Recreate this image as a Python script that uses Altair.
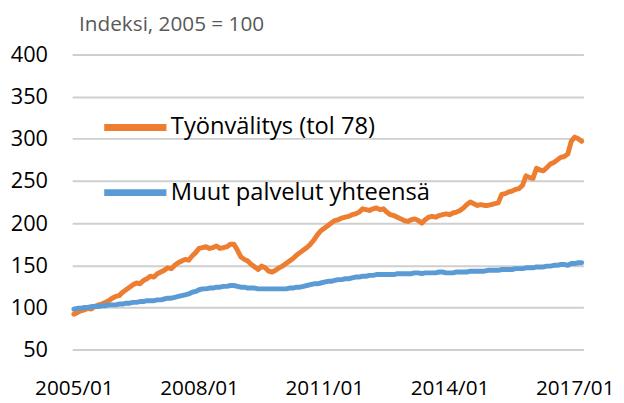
import altair as alt
import pandas as pd

# Monthly index values 2005/01 .. 2017/03 (147 months)
tyonvalitys = [
    92, 94, 96, 97, 99, 98, 101, 103, 104, 106, 108, 111,
    113, 114, 118, 121, 124, 127, 129, 128, 132, 134, 137, 136,
    140, 142, 144, 147, 146, 150, 153, 155, 157, 156, 161, 165,
    170, 171, 172, 170, 171, 173, 170, 171, 172, 175, 175, 168,
    160, 157, 155, 151, 148, 145, 149, 147, 143, 142, 144, 147,
    149, 152, 155, 158, 162, 165, 168, 171, 175, 180, 186, 191,
    194, 197, 200, 203, 204, 206, 207, 208, 210, 211, 213, 217,
    216, 215, 217, 218, 216, 217, 213, 210, 209, 207, 205, 203,
    202, 204, 205, 203, 200, 204, 207, 208, 207, 209, 210, 211,
    210, 212, 213, 215, 218, 222, 225, 223, 221, 222, 221, 221,
    222, 223, 224, 234, 235, 237, 238, 240, 241, 245, 256, 254,
    253, 265, 263, 262, 266, 270, 272, 275, 278, 279, 282, 297,
    302, 300, 297,
]
muut = [
    98, 99, 99, 100, 100, 101, 101, 101, 102, 102, 103, 103,
    103, 104, 104, 105, 105, 106, 106, 107, 107, 108, 108, 108,
    109, 109, 110, 111, 111, 112, 113, 114, 115, 116, 118, 119,
    121, 122, 122, 123, 123, 124, 124, 125, 125, 126, 126, 125,
    124, 124, 123, 123, 123, 122, 122, 122, 122, 122, 122, 122,
    122, 122, 123, 123, 124, 124, 125, 126, 127, 128, 128, 129,
    130, 131, 131, 132, 133, 133, 134, 134, 135, 136, 136, 137,
    137, 138, 138, 139, 139, 139, 139, 139, 139, 140, 140, 140,
    140, 140, 141, 141, 140, 141, 141, 141, 141, 142, 142, 141,
    141, 141, 142, 142, 142, 142, 143, 143, 143, 143, 143, 144,
    144, 144, 144, 145, 145, 145, 145, 146, 146, 146, 147, 147,
    147, 148, 148, 148, 149, 149, 150, 150, 151, 151, 150, 152,
    152, 153, 153,
]
series_names = ["Työnvälitys (tol 78)", "Muut palvelut yhteensä"]
series_colors = ["#ED7D31", "#5B9BD5"]
x_labels = ["2005/01", "2008/01", "2011/01", "2014/01", "2017/01"]
y_ticks = [50, 100, 150, 200, 250, 300, 350, 400]
axis_title = "Indeksi, 2005 = 100"

rows = []
for name, vals in zip(series_names, [tyonvalitys, muut]):
    for i, v in enumerate(vals):
        rows.append({"m": i, "v": v, "s": name})
df = pd.DataFrame(rows)

label_arr = "[" + ",".join("'%s'" % l for l in x_labels) + "]"
FONT = "Open Sans"

xscale = alt.Scale(domain=[-0.5, 146.5], nice=False, zero=False)
yscale = alt.Scale(domain=[50, 400], nice=False, zero=False)
yaxis = alt.Axis(values=y_ticks, title=None, grid=True, gridColor="#cfcfcf", gridWidth=2,
                 gridOpacity=1, domain=False, ticks=False, labelFontSize=22, labelPadding=25,
                 labelColor="#000000", labelFont=FONT)

lines = alt.Chart(df).mark_line(strokeWidth=5, strokeCap="round", strokeJoin="round").encode(
    x=alt.X("m:Q", scale=xscale,
            axis=alt.Axis(values=[0, 36, 72, 108, 144], labelExpr=label_arr + "[round(datum.value/36)]",
                          title=None, grid=False, domain=False, ticks=False,
                          labelFontSize=21, labelPadding=29, labelColor="#000000", labelFont=FONT,
                          labelOverlap=False)),
    y=alt.Y("v:Q", scale=yscale, axis=yaxis),
    color=alt.Color("s:N", sort=series_names,
                    scale=alt.Scale(domain=series_names, range=series_colors),
                    legend=alt.Legend(orient="none", legendX=29, legendY=39, title=None,
                                      symbolType="stroke", symbolSize=3969, symbolStrokeWidth=7,
                                      labelFontSize=24, labelFont=FONT, labelColor="#000000",
                                      labelOffset=1, rowPadding=17, labelLimit=400)),
)

title = alt.Chart(pd.DataFrame({"t": [axis_title]})).mark_text(
    align="left", baseline="middle", fontSize=21, font=FONT, color="#595959"
).encode(text="t:N", x=alt.value(7), y=alt.value(-30))

chart = alt.layer(lines, title).properties(
    width=518, height=299,
    autosize=alt.AutoSizeParams(type="none"),
    padding={"left": 65, "top": 44.5, "right": 33, "bottom": 50},
).configure_view(stroke=None)

chart.save("out.html", embed_options={"renderer": "svg", "actions": False})
